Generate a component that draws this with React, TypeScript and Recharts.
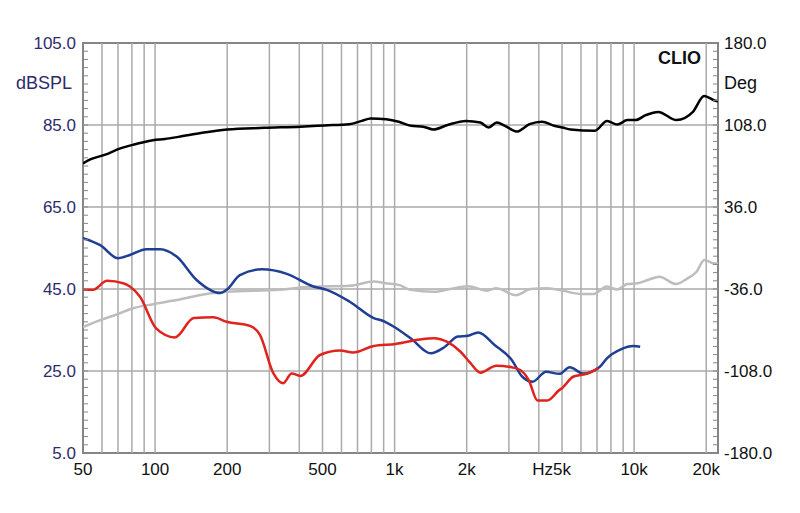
import { LineChart, Line, XAxis, YAxis, ReferenceLine, ReferenceArea } from "recharts";

// frequency (Hz) and level (dB), per curve
const BLACK_HZ = [50, 53.6, 61.5, 71.6, 82.5, 98, 110, 125, 157, 200, 285, 404, 510, 645, 729, 795, 923, 1041, 1172, 1317, 1452, 1663, 1985, 2280, 2470, 2670, 2890, 3230, 3660, 4125, 4640, 5020, 5430, 6860, 7710, 8500, 9380, 10150, 11180, 12600, 15050, 17600, 19600, 21850, 22400];
const BLACK_DB = [75.6, 76.6, 77.7, 79.3, 80.3, 81.3, 81.6, 82.1, 83.1, 83.9, 84.3, 84.6, 84.9, 85.2, 86, 86.6, 86.4, 85.8, 84.8, 84.6, 83.9, 85, 86, 85.6, 84.4, 85.6, 84.8, 83.4, 85.2, 85.8, 84.8, 84.4, 83.9, 83.6, 86, 85.1, 86.2, 86.2, 87.4, 88.2, 86.2, 88.2, 92.1, 90.9, 90.8];

const GRAY_HZ = [50, 59, 70, 81, 98, 123, 164, 199, 332, 458, 650, 818, 920, 1040, 1166, 1460, 1700, 2024, 2430, 2660, 3200, 3700, 4290, 4940, 6000, 6770, 7700, 8500, 9360, 10330, 11400, 12750, 14960, 16710, 18230, 19630, 21370, 22400];
const GRAY_DB = [35.7, 37.4, 38.9, 40.3, 41.3, 42.3, 43.8, 44.3, 44.8, 45.6, 45.8, 46.8, 46.4, 46, 44.8, 44.3, 45, 45.7, 44.6, 45.2, 43.5, 45, 45.2, 44.7, 43.8, 43.8, 45.6, 44.9, 46.2, 46.4, 47.2, 48, 46.2, 47.6, 49.2, 52.1, 51.3, 51.2];

const BLUE_HZ = [50, 59, 70, 78.5, 92, 105, 123, 149, 187, 199, 226, 279, 355, 458, 521, 650, 818, 896, 993, 1166, 1417, 1613, 1836, 2024, 2233, 2622, 3083, 3415, 3765, 4290, 4880, 5380, 6120, 7180, 7700, 8800, 9960, 10600];
const BLUE_DB = [57.4, 55.7, 52.5, 53.3, 54.7, 54.7, 52.9, 47.2, 44, 44.8, 48.4, 49.8, 48.7, 45.6, 44.8, 41.9, 37.9, 37.2, 35.8, 33, 29.3, 30.8, 33.4, 33.6, 34.4, 31.3, 27.7, 23.6, 22.4, 24.8, 24.3, 25.9, 24.4, 26, 28.1, 30.3, 31.1, 30.9];

const RED_HZ = [50, 55, 63, 73.6, 78.5, 86.5, 101, 121, 145, 175, 199, 249, 274, 312, 342, 372, 404, 488, 593, 670, 818, 1010, 1276, 1460, 1660, 1885, 2075, 2280, 2660, 3083, 3360, 3630, 3950, 4340, 4880, 5000, 5560, 6400, 7100];
const RED_DB = [44.9, 44.8, 47, 46.4, 45.6, 43.1, 35.4, 33.2, 37.9, 38.1, 37, 36, 33.8, 24.4, 22, 24.4, 23.8, 28.9, 30, 29.5, 31.1, 31.6, 32.7, 33, 32.1, 29.7, 26.9, 24.6, 26.3, 25.9, 25.2, 22.8, 17.8, 17.8, 20.4, 20.8, 23.6, 24.4, 25.7];

const X_TICKS = [50, 100, 200, 500, 1000, 2000, 5000, 10000, 20000];
const X_GRID = [60, 70, 80, 90, 100, 200, 300, 400, 500, 600, 700, 800, 900, 1000, 2000, 3000, 4000, 5000, 6000, 7000, 8000, 9000, 10000, 20000];
const DB_MAJOR = [5, 25, 45, 65, 85, 105];
const DEG_MAJOR = [-180, -108, -36, 36, 108, 180];

const pairs = (hz: number[], db: number[]) => hz.map((f, i) => ({ f, v: db[i] }));

const black = pairs(BLACK_HZ, BLACK_DB);
const gray = pairs(GRAY_HZ, GRAY_DB);
const blue = pairs(BLUE_HZ, BLUE_DB);
const red = pairs(RED_HZ, RED_DB);

const PL = 83;
const PR = 718;
const FONT = "'Liberation Sans', Arial, sans-serif";
const FRAME = "#858585";
const GRID = "#aaaaaa";

// minor ticks every 2 dB (= 7.2 deg on the right scale)
const dbTicks: number[] = [];
for (let v = 5; v <= 105.001; v += 2) dbTicks.push(Math.round(v * 10) / 10);

const dbToDeg = (v: number) => ((v - 5) / 100) * 360 - 180;
const fmtHz = (v: number) => (v >= 1000 ? `${v / 1000}k` : `${v}`);

function LeftTick(props: any) {
	const { y, payload } = props;
	const major = DB_MAJOR.includes(payload.value);
	return (
		<g>
			<line x1={PL} x2={PL + 5} y1={y} y2={y} stroke={FRAME} strokeWidth={1} />
			{major && (
				<text x={76} y={y} dy={6} textAnchor="end" fill="#2c2c6c" fontSize={17} fontFamily={FONT}>
					{payload.value.toFixed(1)}
				</text>
			)}
		</g>
	);
}

function RightTick(props: any) {
	const { y, payload } = props;
	const deg = Math.round(dbToDeg(payload.value) * 10) / 10;
	const major = DEG_MAJOR.includes(deg);
	return (
		<g>
			<line x1={PR - 5} x2={PR} y1={y} y2={y} stroke={FRAME} strokeWidth={1} />
			{major && (
				<text x={724} y={y} dy={6} textAnchor="start" fill="#111" fontSize={17} fontFamily={FONT}>
					{deg.toFixed(1)}
				</text>
			)}
		</g>
	);
}

function BottomTick(props: any) {
	const { x, y, payload } = props;
	return (
		<g>
			<text x={x} y={y} dy={14} textAnchor="middle" fill="#111" fontSize={17} fontFamily={FONT}>
				{fmtHz(payload.value)}
			</text>
			{payload.value === 5000 && (
				<text x={x - 9} y={y} dy={14} textAnchor="end" fill="#111" fontSize={17} fontFamily={FONT}>
					Hz
				</text>
			)}
		</g>
	);
}

export default function App() {
	return (
		<div style={{ position: "absolute", left: 0, top: 0, background: "#fff" }}>
			<LineChart width={800} height={513} margin={{ top: 43, right: 12, bottom: 30, left: 13 }}>
				<XAxis
					type="number"
					dataKey="f"
					scale="log"
					domain={[50, 22400]}
					allowDataOverflow
					ticks={X_TICKS}
					tick={<BottomTick />}
					tickLine={false}
					axisLine={false}
					height={30}
				/>
				<YAxis
					yAxisId="db"
					type="number"
					domain={[5, 105]}
					ticks={dbTicks}
					interval={0}
					tick={<LeftTick />}
					tickLine={false}
					axisLine={false}
					width={70}
				/>
				<YAxis
					yAxisId="right"
					orientation="right"
					type="number"
					domain={[5, 105]}
					ticks={dbTicks}
					interval={0}
					tick={<RightTick />}
					tickLine={false}
					axisLine={false}
					width={70}
				/>
				{X_GRID.map((f) => (
					<ReferenceLine key={`x${f}`} yAxisId="db" x={f} stroke={GRID} strokeWidth={1.5} />
				))}
				{DB_MAJOR.slice(1, -1).map((v) => (
					<ReferenceLine key={`y${v}`} yAxisId="db" y={v} stroke={GRID} strokeWidth={1.5} />
				))}
				<ReferenceArea yAxisId="db" x1={50} x2={22400} y1={5} y2={105} fill="none" stroke={FRAME} strokeWidth={2} />
				<Line yAxisId="right" data={gray} dataKey="v" type="monotone" stroke="#bdbdbd" strokeWidth={2.5} dot={false} isAnimationActive={false} />
				<Line yAxisId="db" data={black} dataKey="v" type="monotone" stroke="#000000" strokeWidth={2.5} dot={false} isAnimationActive={false} />
				<Line yAxisId="db" data={blue} dataKey="v" type="monotone" stroke="#1f3f94" strokeWidth={2.5} dot={false} isAnimationActive={false} />
				<Line yAxisId="db" data={red} dataKey="v" type="monotone" stroke="#e0231c" strokeWidth={2.5} dot={false} isAnimationActive={false} />
				<text x={72} y={89} textAnchor="end" fill="#2c2c6c" fontSize={18} fontFamily={FONT}>
					dBSPL
				</text>
				<text x={724} y={89} textAnchor="start" fill="#111" fontSize={18} fontFamily={FONT}>
					Deg
				</text>
				<text x={701} y={64} textAnchor="end" fill="#111" fontSize={18} fontWeight="bold" fontFamily={FONT}>
					CLIO
				</text>
			</LineChart>
		</div>
	);
}
